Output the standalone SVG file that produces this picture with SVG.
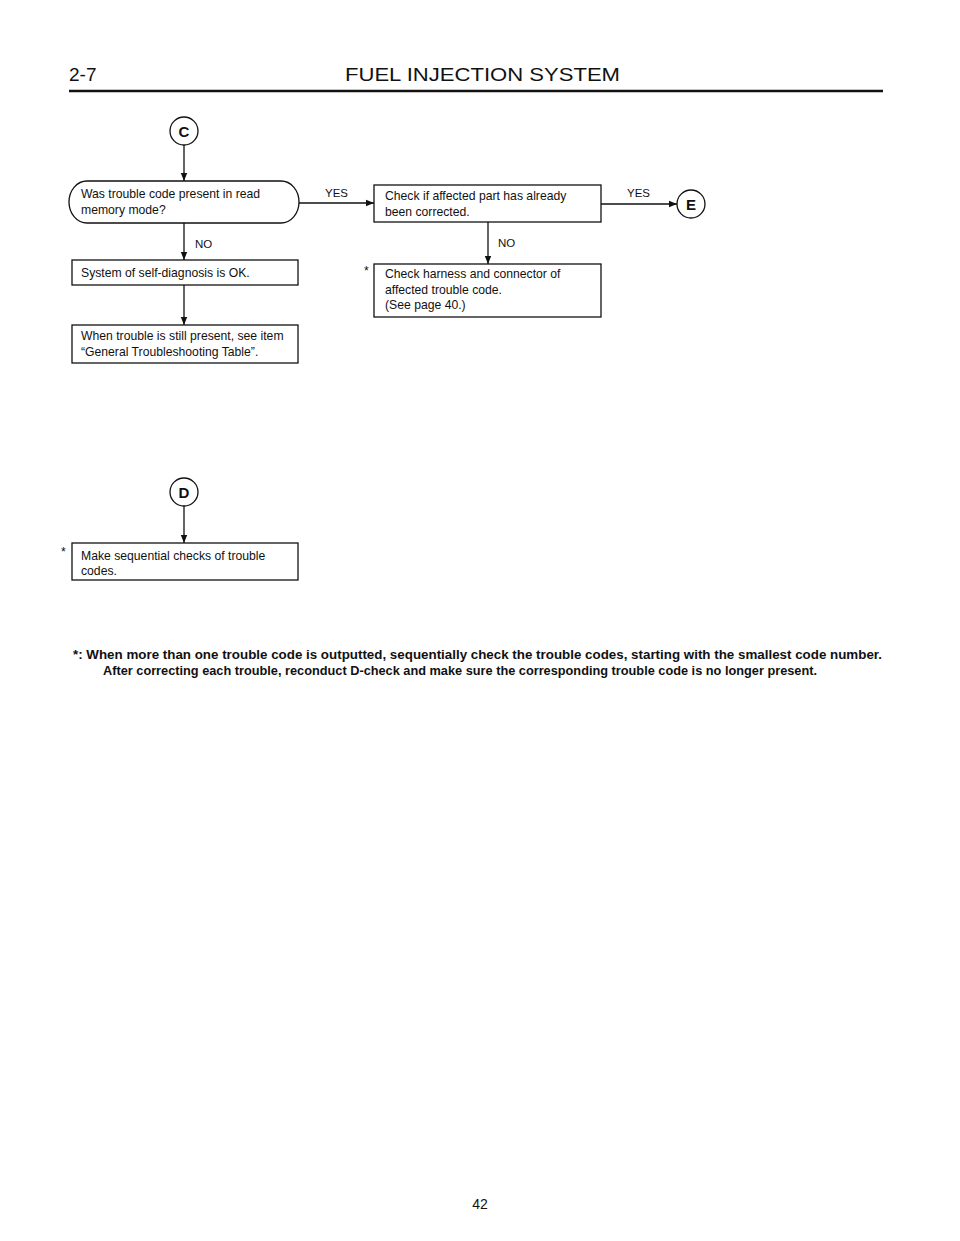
<svg xmlns="http://www.w3.org/2000/svg" width="960" height="1241" viewBox="0 0 960 1241">
<style>
.bg{fill:#fff}
.box{fill:#fff;stroke:#111;stroke-width:1.3}
.t{font-family:"Liberation Sans",Arial,sans-serif;font-size:12.2px;fill:#111}
.lbl{font-family:"Liberation Sans",Arial,sans-serif;font-size:11.5px;fill:#111}
.hd{font-family:"Liberation Sans",Arial,sans-serif;font-size:19px;fill:#111}
.cl{font-family:"Liberation Sans",Arial,sans-serif;font-size:15px;font-weight:bold;fill:#111;text-anchor:middle}
.fn{font-family:"Liberation Sans Narrow","Liberation Sans",Arial,sans-serif;font-size:13.5px;font-weight:bold;fill:#111}
.ln{fill:none;stroke:#111;stroke-width:1.3}
</style>
<defs>
<marker id="ah" viewBox="0 0 10 10" refX="10" refY="5" markerWidth="8" markerHeight="8" markerUnits="userSpaceOnUse" orient="auto">
<path d="M0,1 L10,5 L0,9 z" fill="#111"/>
</marker>
</defs>
<rect class="bg" x="0" y="0" width="960" height="1241"/>
<g id="header">
<text class="hd" x="69" y="81">2-7</text>
<text class="hd" x="345" y="81" textLength="275" lengthAdjust="spacingAndGlyphs">FUEL INJECTION SYSTEM</text>
<line x1="69" y1="91" x2="883" y2="91" stroke="#111" stroke-width="2.5"/>
</g>
<g id="connectors">
<line class="ln" x1="184" y1="145" x2="184" y2="181" marker-end="url(#ah)"/>
<line class="ln" x1="184" y1="223" x2="184" y2="260" marker-end="url(#ah)"/>
<text class="lbl" x="195" y="248">NO</text>
<line class="ln" x1="184" y1="285" x2="184" y2="325" marker-end="url(#ah)"/>
<line class="ln" x1="299" y1="203" x2="374" y2="203" marker-end="url(#ah)"/>
<text class="lbl" x="325" y="197">YES</text>
<line class="ln" x1="601" y1="204" x2="677" y2="204" marker-end="url(#ah)"/>
<text class="lbl" x="627" y="197">YES</text>
<line class="ln" x1="488" y1="222" x2="488" y2="264" marker-end="url(#ah)"/>
<text class="lbl" x="498" y="247">NO</text>
<line class="ln" x1="184" y1="506" x2="184" y2="543" marker-end="url(#ah)"/>
</g>
<g id="nodeC">
<circle class="box" cx="184" cy="131" r="14"/>
<text class="cl" x="184" y="136.5">C</text>
</g>
<g id="decision">
<rect class="box" x="69" y="181" width="230" height="42" rx="18" ry="21"/>
<text class="t" x="81" y="198">Was trouble code present in read</text>
<text class="t" x="81" y="214">memory mode?</text>
</g>
<g id="selfdiag">
<rect class="box" x="72" y="260" width="226" height="25"/>
<text class="t" x="81" y="277">System of self-diagnosis is OK.</text>
</g>
<g id="stillpresent">
<rect class="box" x="72" y="325" width="226" height="38"/>
<text class="t" x="81" y="340">When trouble is still present, see item</text>
<text class="t" x="81" y="356">“General Troubleshooting Table”.</text>
</g>
<g id="checkcorrected">
<rect class="box" x="374" y="185" width="227" height="37"/>
<text class="t" x="385" y="200">Check if affected part has already</text>
<text class="t" x="385" y="216">been corrected.</text>
</g>
<g id="nodeE">
<circle class="box" cx="691" cy="204" r="14"/>
<text class="cl" x="691" y="209.5">E</text>
</g>
<g id="checkharness">
<rect class="box" x="374" y="264" width="227" height="53"/>
<text class="t" x="385" y="278">Check harness and connector of</text>
<text class="t" x="385" y="294">affected trouble code.</text>
<text class="t" x="385" y="309">(See page 40.)</text>
<text class="t" x="364" y="275">*</text>
</g>
<g id="nodeD">
<circle class="box" cx="184" cy="492" r="14"/>
<text class="cl" x="184" y="497.5">D</text>
</g>
<g id="sequential">
<rect class="box" x="72" y="543" width="226" height="37"/>
<text class="t" x="81" y="560">Make sequential checks of trouble</text>
<text class="t" x="81" y="575">codes.</text>
<text class="t" x="61" y="556">*</text>
</g>
<g id="footnote">
<text class="fn" x="73" y="659" textLength="809" lengthAdjust="spacingAndGlyphs">*: When more than one trouble code is outputted, sequentially check the trouble codes, starting with the smallest code number.</text>
<text class="fn" x="103" y="675" textLength="714" lengthAdjust="spacingAndGlyphs">After correcting each trouble, reconduct D-check and make sure the corresponding trouble code is no longer present.</text>
</g>
<g id="page">
<text class="hd" x="480" y="1209" text-anchor="middle" style="font-size:14px">42</text>
</g>
</svg>
